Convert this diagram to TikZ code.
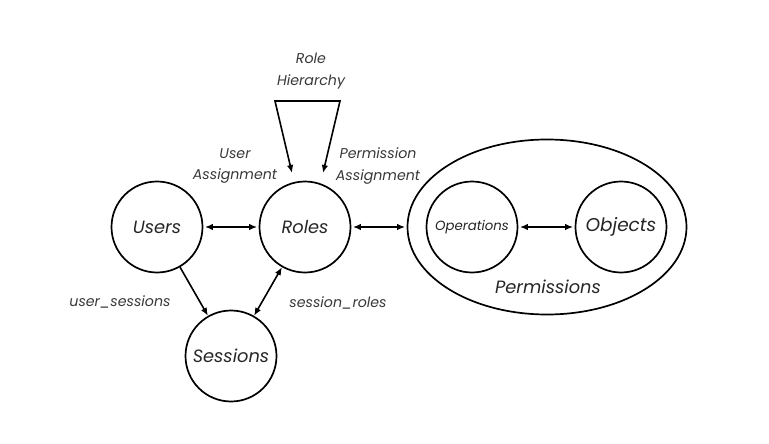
\documentclass[tikz,border=0pt]{standalone}
\usepackage{fontspec}
\setmainfont{Poppins}
\usetikzlibrary{arrows.meta,shapes.geometric}
\begin{document}
\begin{tikzpicture}[x=1pt,y=-1pt,
  every node/.style={font=\itshape},
  ent/.style={circle,draw,line width=1.7pt,minimum size=91pt,inner sep=0pt,font=\itshape\fontsize{17.8}{20}\selectfont,text=black!85},
  lbl/.style={font=\itshape\fontsize{14.2}{21.5}\selectfont,align=center,text=black!78},
  conn/.style={line width=1.6pt,{Latex[length=8pt,width=6.5pt]}-{Latex[length=8pt,width=6.5pt]},shorten <=1.5pt,shorten >=1.5pt},
  oneway/.style={line width=1.6pt,-{Latex[length=8pt,width=6.5pt]}}
]
\useasboundingbox[fill=white] (0,0) rectangle (769,444);
\node[ent] (users) at (157,227) {Users};
\node[ent] (roles) at (305,227) {Roles};
\node[ent] (sessions) at (231,356) {Sessions};
\node[ellipse,draw,line width=1.7pt,minimum width=279pt,minimum height=175pt] (perm) at (547,227) {};
\node[ent,font=\itshape\fontsize{13.3}{15}\selectfont] (ops) at (472,227) {Operations};
\node[ent,font=\itshape\fontsize{18.5}{20}\selectfont] (objs) at (621,227) {Objects};
\node[font=\itshape\fontsize{17.8}{20}\selectfont,text=black!85] (permlbl) at (548,287) {Permissions};

\draw[conn] (users) -- (roles);
\draw[conn] (roles) -- (perm);
\draw[conn] (ops) -- (objs);
\draw[oneway] (users) -- (sessions);
\draw[conn,shorten <=0pt,shorten >=0pt] (sessions) -- (roles);

\coordinate (rh1) at (275,101);
\coordinate (rh2) at (340,101);
\coordinate (a1) at (292,173);
\coordinate (a2) at (323,173);
\draw[line width=1.6pt,line join=miter,{Latex[length=8pt,width=6.5pt]}-{Latex[length=8pt,width=6.5pt]}] (a1) -- (rh1) -- (rh2) -- (a2);

\node[lbl] (rhl) at (311,71) {Role\\Hierarchy};
\node[lbl] (ual) at (235,166) {User\\Assignment};
\node[lbl] (pal) at (378,166) {Permission\\Assignment};
\node[lbl] (usl) at (120,302) {user\_sessions};
\node[lbl] (srl) at (338,303) {session\_roles};
\end{tikzpicture}
\end{document}
